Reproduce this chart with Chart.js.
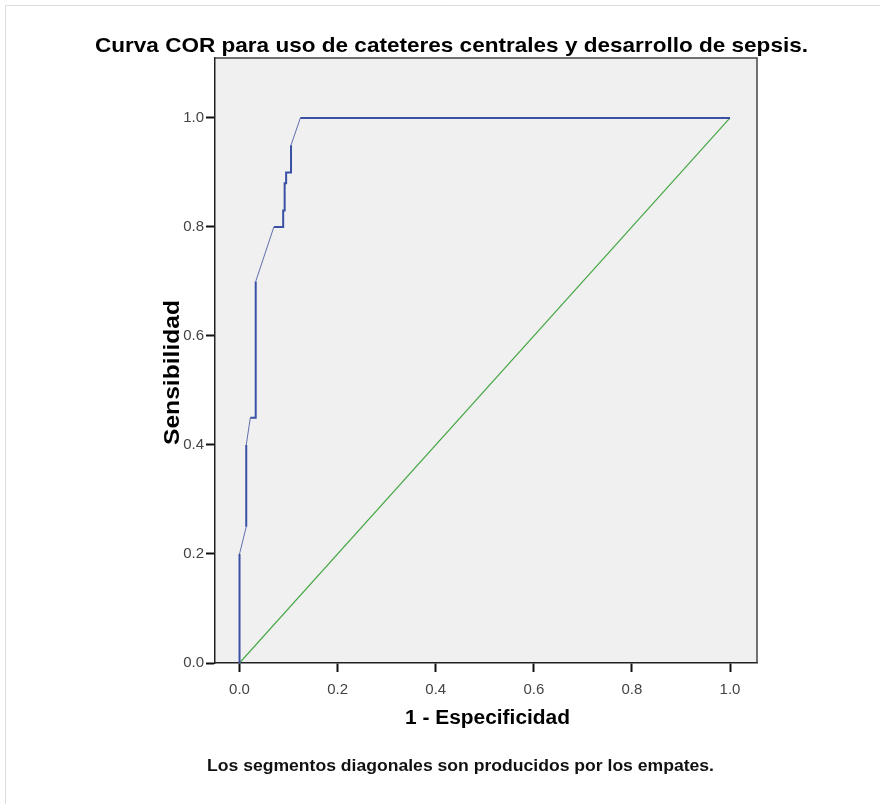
<!DOCTYPE html>
<html>
<head>
<meta charset="utf-8">
<script src="https://cdn.jsdelivr.net/npm/chart.js@4/dist/chart.umd.min.js"></script>
<style>
  html, body { margin: 0; padding: 0; background: #ffffff; }
  canvas { display: block; }
</style>
</head>
<body>
<canvas id="roc" width="886" height="804"></canvas>
<script>
// ROC curve (1 - specificity, sensitivity) for central catheter use vs. sepsis
const fpr = [0, 0, 0.0137, 0.0137, 0.022, 0.033, 0.033, 0.070, 0.089, 0.089, 0.092, 0.092, 0.095, 0.095, 0.105, 0.105, 0.124, 1.0];
const tpr = [0, 0.20, 0.25, 0.40, 0.45, 0.45, 0.70, 0.80, 0.80, 0.83, 0.83, 0.88, 0.88, 0.90, 0.90, 0.95, 1.00, 1.00];

// Chance (reference) line
const refX = [0, 1];
const refY = [0, 1];

// Tick values shown on both axes
const tickValues = [0.0, 0.2, 0.4, 0.6, 0.8, 1.0];

const titleText = 'Curva COR para uso de cateteres centrales y desarrollo de sepsis.';
const xTitleText = '1 - Especificidad';
const yTitleText = 'Sensibilidad';
const noteText = 'Los segmentos diagonales son producidos por los empates.';

const toPoints = (xs, ys) => xs.map((x, i) => ({ x: x, y: ys[i] }));

// Draw text stretched/compressed horizontally to occupy a given width
function fitText(ctx, text, font, x0, x1, baseline, color) {
  ctx.save();
  ctx.font = font;
  ctx.fillStyle = color;
  ctx.textBaseline = 'alphabetic';
  ctx.textAlign = 'left';
  const w = ctx.measureText(text).width;
  const k = (x1 - x0) / w;
  ctx.translate(x0, baseline);
  ctx.scale(k, 1);
  ctx.fillText(text, 0, 0);
  ctx.restore();
}

// Tie segments (both coordinates change) are drawn thinner than the steps
const isDiagonal = (c) => c.p0.parsed.x !== c.p1.parsed.x && c.p0.parsed.y !== c.p1.parsed.y;

const framePlugin = {
  id: 'frame',
  beforeDraw(chart) {
    const { ctx, chartArea: a } = chart;
    ctx.save();
    ctx.fillStyle = '#ffffff';
    ctx.fillRect(0, 0, chart.width, chart.height);
    // light outer border
    ctx.strokeStyle = '#dcdcdc';
    ctx.lineWidth = 1;
    ctx.beginPath();
    ctx.moveTo(5.5, 804);
    ctx.lineTo(5.5, 5.5);
    ctx.lineTo(880, 5.5);
    ctx.stroke();
    // plot background
    ctx.fillStyle = '#f0f0f0';
    ctx.fillRect(a.left, a.top, a.right - a.left, a.bottom - a.top);
    ctx.restore();
  },
  afterDraw(chart) {
    const { ctx, chartArea: a } = chart;
    ctx.save();
    ctx.strokeStyle = '#444444';
    ctx.lineWidth = 1.5;
    ctx.beginPath();
    ctx.moveTo(a.left, a.top);
    ctx.lineTo(a.right, a.top);
    ctx.lineTo(a.right, a.bottom);
    ctx.stroke();
    ctx.restore();

    fitText(ctx, titleText, 'bold 21px "Liberation Sans", Arial, sans-serif', 95, 808, 52, '#000000');
    fitText(ctx, xTitleText, 'bold 20px "Liberation Sans", Arial, sans-serif', 405, 570, 724, '#000000');
    fitText(ctx, noteText, 'bold 16px "Liberation Sans", Arial, sans-serif', 207, 714, 771, '#111111');

    // rotated y-axis title
    ctx.save();
    ctx.translate(179, 445);
    ctx.rotate(-Math.PI / 2);
    fitText(ctx, yTitleText, 'bold 22px "Liberation Sans", Arial, sans-serif', 0, 145, 0, '#000000');
    ctx.restore();
  }
};

const fixedTicks = (scale) => {
  scale.ticks = tickValues.map(v => ({ value: v }));
};

const tickFont = { family: '"Liberation Sans", Arial, sans-serif', size: 15 };

new Chart(document.getElementById('roc'), {
  type: 'scatter',
  data: {
    datasets: [
      {
        label: 'Curva COR',
        data: toPoints(fpr, tpr),
        showLine: true,
        borderColor: '#3a50a5',
        borderWidth: 2,
        pointRadius: 0,
        tension: 0,
        order: 1,
        segment: {
          borderWidth: c => isDiagonal(c) ? 1 : 2,
          borderColor: c => isDiagonal(c) ? '#5f6fae' : '#3a50a5'
        }
      },
      {
        label: 'Línea de referencia',
        data: toPoints(refX, refY),
        showLine: true,
        borderColor: '#45a845',
        borderWidth: 1.2,
        pointRadius: 0,
        tension: 0,
        order: 2
      }
    ]
  },
  options: {
    responsive: false,
    animation: false,
    devicePixelRatio: 1,
    layout: { padding: { left: 0, top: 58, right: 129, bottom: 0 } },
    plugins: {
      legend: { display: false },
      title: { display: false },
      tooltip: { enabled: false }
    },
    scales: {
      x: {
        type: 'linear',
        min: -0.05,
        max: 1.055,
        afterBuildTicks: fixedTicks,
        afterFit(scale) { scale.height = 141; },
        grid: {
          drawOnChartArea: false,
          drawTicks: true,
          tickLength: 9,
          tickColor: '#111111',
          tickWidth: 2
        },
        border: { display: true, color: '#222222', width: 1.5 },
        ticks: {
          padding: 9,
          color: '#444444',
          font: tickFont,
          callback: v => Number(v).toFixed(1)
        }
      },
      y: {
        type: 'linear',
        min: 0,
        max: 1.11,
        afterBuildTicks: fixedTicks,
        afterFit(scale) { scale.width = 215; },
        grid: {
          drawOnChartArea: false,
          drawTicks: true,
          tickLength: 9,
          tickColor: '#111111',
          tickWidth: 2
        },
        border: { display: true, color: '#222222', width: 1.5 },
        ticks: {
          padding: 2,
          color: '#444444',
          font: tickFont,
          callback: v => Number(v).toFixed(1)
        }
      }
    }
  },
  plugins: [framePlugin]
});
</script>
</body>
</html>
